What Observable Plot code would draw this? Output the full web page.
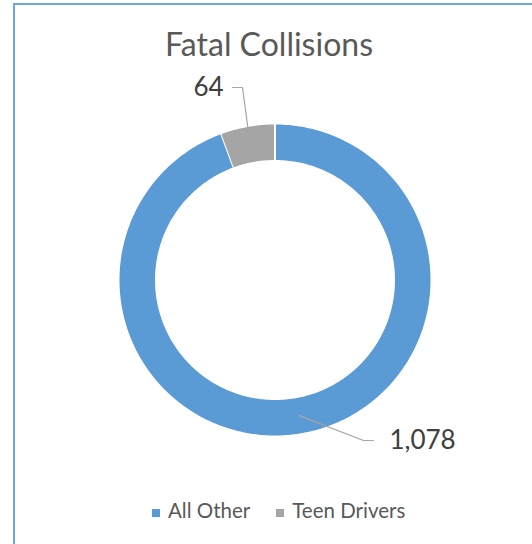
<!DOCTYPE html>
<html><head><meta charset="utf-8">
<script src="https://cdn.jsdelivr.net/npm/d3@7"></script>
<script src="https://cdn.jsdelivr.net/npm/@observablehq/plot@0.6"></script>
<style>
body{margin:0;background:#fff;}
#chart{position:relative;width:532px;height:544px;overflow:hidden;font-family:Lato,"Open Sans",sans-serif;}
#frame{position:absolute;left:13px;top:3px;width:700px;height:700px;border:2px solid #6ea7df;box-sizing:border-box;pointer-events:none;}
#title{height:66px;box-sizing:border-box;padding-top:28px;padding-left:6px;font-size:32px;line-height:32px;text-align:center;color:#595959;}
#plot svg{display:block;}
#legend{box-sizing:border-box;padding-top:14px;padding-left:152px;font-size:20.5px;line-height:20px;color:#595959;white-space:nowrap;}
#legend .item{display:inline-block;margin-right:26px;}
#legend .sw{display:inline-block;width:8px;height:8px;margin-right:8px;vertical-align:1px;}
</style></head>
<body>
<div id="chart">
  <div id="frame"></div>
  <div id="title">Fatal Collisions</div>
  <div id="plot"></div>
  <div id="legend"></div>
</div>
<script>
// ---- data ----
const categories = ["All Other", "Teen Drivers"];
const values = [1078, 64];
const colors = ["#5B9BD5", "#A5A5A5"];
const valueLabels = ["1,078", "64"];

// ---- layout (pixels) ----
const W = 532, H = 420;
const cx = 274.5, cy = 213.5, R = 155.5;          // centre & outer radius in px
const innerFrac = 120 / R;
const sw = 1 / R;                                   // stroke compensation

const rows = categories.map((c, i) => ({category: c, value: values[i], label: valueLabels[i]}));
const arcs = d3.pie().sort(null).value(d => d.value)(rows);

// ring polygons (units of outer radius, y up)
const ring = [];
for (const a of arcs) {
  const n = Math.max(8, Math.ceil((a.endAngle - a.startAngle) / (2 * Math.PI) * 360));
  const ro = 1 + sw, ri = innerFrac - sw;
  for (let k = 0; k <= n; k++) {
    const t = a.startAngle + (a.endAngle - a.startAngle) * k / n;
    ring.push({category: a.data.category, x: ro * Math.sin(t), y: ro * Math.cos(t)});
  }
  for (let k = n; k >= 0; k--) {
    const t = a.startAngle + (a.endAngle - a.startAngle) * k / n;
    ring.push({category: a.data.category, x: ri * Math.sin(t), y: ri * Math.cos(t)});
  }
}

// leader lines: anchor on slice (from its mid angle), elbow and end near label
const leaderSpec = {
  "Teen Drivers": {r: 1.0, elbow: [-0.209, 1.238], end: [-0.273, 1.238], anchor: "end"},
  "All Other":    {r: (1 + innerFrac) / 2, elbow: [0.569, -1.032], end: [0.633, -1.032], anchor: "start"}
};
const leaders = [], labels = [];
for (const a of arcs) {
  const s = leaderSpec[a.data.category];
  const m = (a.startAngle + a.endAngle) / 2;
  leaders.push({category: a.data.category, x: s.r * Math.sin(m), y: s.r * Math.cos(m)});
  leaders.push({category: a.data.category, x: s.elbow[0], y: s.elbow[1]});
  leaders.push({category: a.data.category, x: s.end[0], y: s.end[1]});
  labels.push({category: a.data.category, x: s.end[0], y: s.end[1], text: a.data.label, anchor: s.anchor});
}

const xDomain = [-cx / R, (W - cx) / R];
const yDomain = [-(H - cy) / R, cy / R];

const chart = Plot.plot({
  width: W, height: H, margin: 0,
  style: {fontFamily: "Lato, 'Open Sans', sans-serif", background: "transparent"},
  x: {domain: xDomain, axis: null},
  y: {domain: yDomain, axis: null},
  color: {domain: categories, range: colors},
  marks: [
    Plot.line(ring, {x: "x", y: "y", z: "category", fill: "category", stroke: "white", strokeWidth: 2, curve: "linear"}),
    Plot.line(leaders, {x: "x", y: "y", z: "category", stroke: "#A6A6A6", strokeWidth: 1.2}),
    Plot.text(labels.filter(d => d.anchor === "end"), {x: "x", y: "y", text: "text", textAnchor: "end", dx: -9, fontSize: 26, fill: "#404040"}),
    Plot.text(labels.filter(d => d.anchor === "start"), {x: "x", y: "y", text: "text", textAnchor: "start", dx: 16, fontSize: 26, fill: "#404040"})
  ]
});
document.getElementById("plot").appendChild(chart);

// legend
const legend = document.getElementById("legend");
categories.forEach((c, i) => {
  const item = document.createElement("span");
  item.className = "item";
  const s = document.createElement("span");
  s.className = "sw";
  s.style.background = colors[i];
  item.appendChild(s);
  item.appendChild(document.createTextNode(c));
  legend.appendChild(item);
});
</script>
</body></html>
